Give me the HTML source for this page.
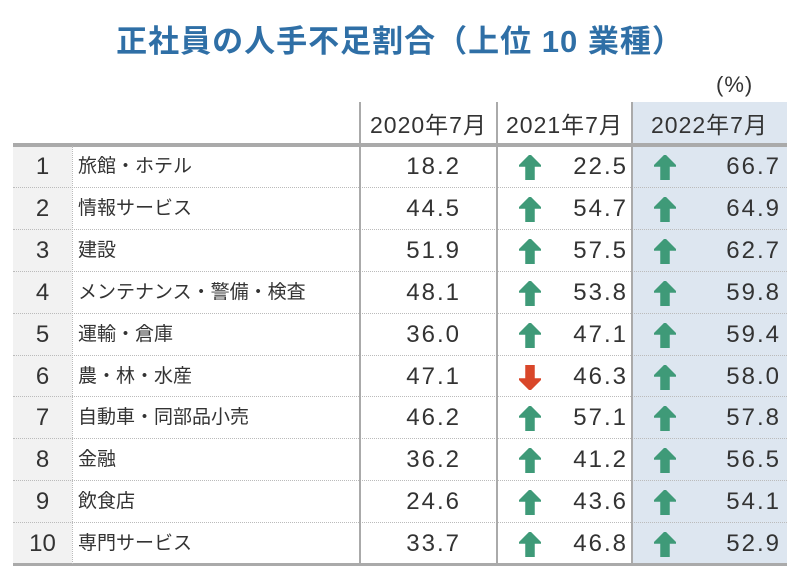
<!DOCTYPE html>
<html><head><meta charset="utf-8"><style>
body{margin:0;width:800px;height:574px;background:#fff;position:relative;overflow:hidden;font-family:"Liberation Sans","Noto Sans CJK JP",sans-serif;color:#333}
.a{position:absolute}
.t{font-size:22px;line-height:42px;white-space:nowrap}
.n{font-size:24px;letter-spacing:2px}
</style></head><body>
<div class="a" style="left:0;width:800px;top:16px;text-align:center;font-size:31px;font-weight:bold;color:#2f6fa6;letter-spacing:1px">正社員の人手不足割合（上位 10 業種）</div>
<div class="a t" style="left:716px;top:64px;font-size:22px;letter-spacing:1px">(%)</div>
<div class="a" style="left:632px;top:102px;width:155px;height:463px;background:#dde6f0"></div>
<div class="a" style="left:13px;top:146px;width:59px;height:419px;background:#f2f2f2"></div>
<div class="a t" style="left:360px;width:137px;top:104px;text-align:center;font-size:23px;letter-spacing:1px">2020年7月</div>
<div class="a t" style="left:497px;width:135px;top:104px;text-align:center;font-size:23px;letter-spacing:1px">2021年7月</div>
<div class="a t" style="left:632px;width:155px;top:104px;text-align:center;font-size:23px;letter-spacing:1px">2022年7月</div>
<div id="rows"></div>
<div class="a" style="left:13px;top:143px;width:774px;height:4px;background:#aaa"></div>
<div class="a" style="left:13px;top:563px;width:774px;height:3px;background:#aaa"></div>
<div class="a" style="left:359px;top:102px;width:2px;height:462px;background:#aaa"></div>
<div class="a" style="left:496px;top:102px;width:2px;height:462px;background:#aaa"></div>
<div class="a" style="left:631px;top:102px;width:2px;height:462px;background:#aaa"></div>
<div class="a" style="left:72px;top:146px;width:0;height:418px;border-left:1px dotted #bbb"></div>
<script>
const industries=["旅館・ホテル","情報サービス","建設","メンテナンス・警備・検査","運輸・倉庫","農・林・水産","自動車・同部品小売","金融","飲食店","専門サービス"];
const v2020=[18.2,44.5,51.9,48.1,36.0,47.1,46.2,36.2,24.6,33.7];
const v2021=[22.5,54.7,57.5,53.8,47.1,46.3,57.1,41.2,43.6,46.8];
const v2022=[66.7,64.9,62.7,59.8,59.4,58.0,57.8,56.5,54.1,52.9];
const top0=146,pitch=41.9;
const R=document.getElementById('rows');
function add(html){const d=document.createElement('div');d.innerHTML=html;const e=d.firstChild;R.appendChild(e);return e;}
function arrow(x,y,up,name){
  const col=up?'#3f9a78':'#d9472a';
  const pts=up?"11,0 22,11 15,11 15,25 7,25 7,11 0,11":"11,25 22,14 15,14 15,0 7,0 7,14 0,14";
  const e=add(`<svg class="a" width="22" height="25" style="left:${x}px;top:${y}px"><polygon points="${pts}" fill="${col}" stroke="${col}" stroke-width="1.5" stroke-linejoin="round"/></svg>`);
  
  
}
industries.forEach((n,i)=>{
  const y=top0+i*pitch;
  if(i<9){const l=add(`<div class="a" style="left:13px;top:${y+pitch-1}px;width:774px;border-top:1px dotted #bbb"></div>`);
    
    }
  let e=add(`<div class="a t n" style="left:13px;width:59px;top:${y}px;text-align:center;letter-spacing:0">${i+1}</div>`);
  
  
  e=add(`<div class="a t" style="left:78px;top:${y}px;font-size:19px">${n}</div>`);
  
  
  e=add(`<div class="a t n" style="right:${800-461}px;top:${y}px">${v2020[i].toFixed(1)}</div>`);
  
  
  e=add(`<div class="a t n" style="right:${800-628}px;top:${y}px">${v2021[i].toFixed(1)}</div>`);
  
  
  e=add(`<div class="a t n" style="right:${800-781}px;top:${y}px">${v2022[i].toFixed(1)}</div>`);
  
  
  arrow(519,y+9,v2021[i]>=v2020[i],'trend-arrow-2021');
  arrow(654,y+9,v2022[i]>=v2021[i],'trend-arrow-2022');
});
</script>
</body></html>
